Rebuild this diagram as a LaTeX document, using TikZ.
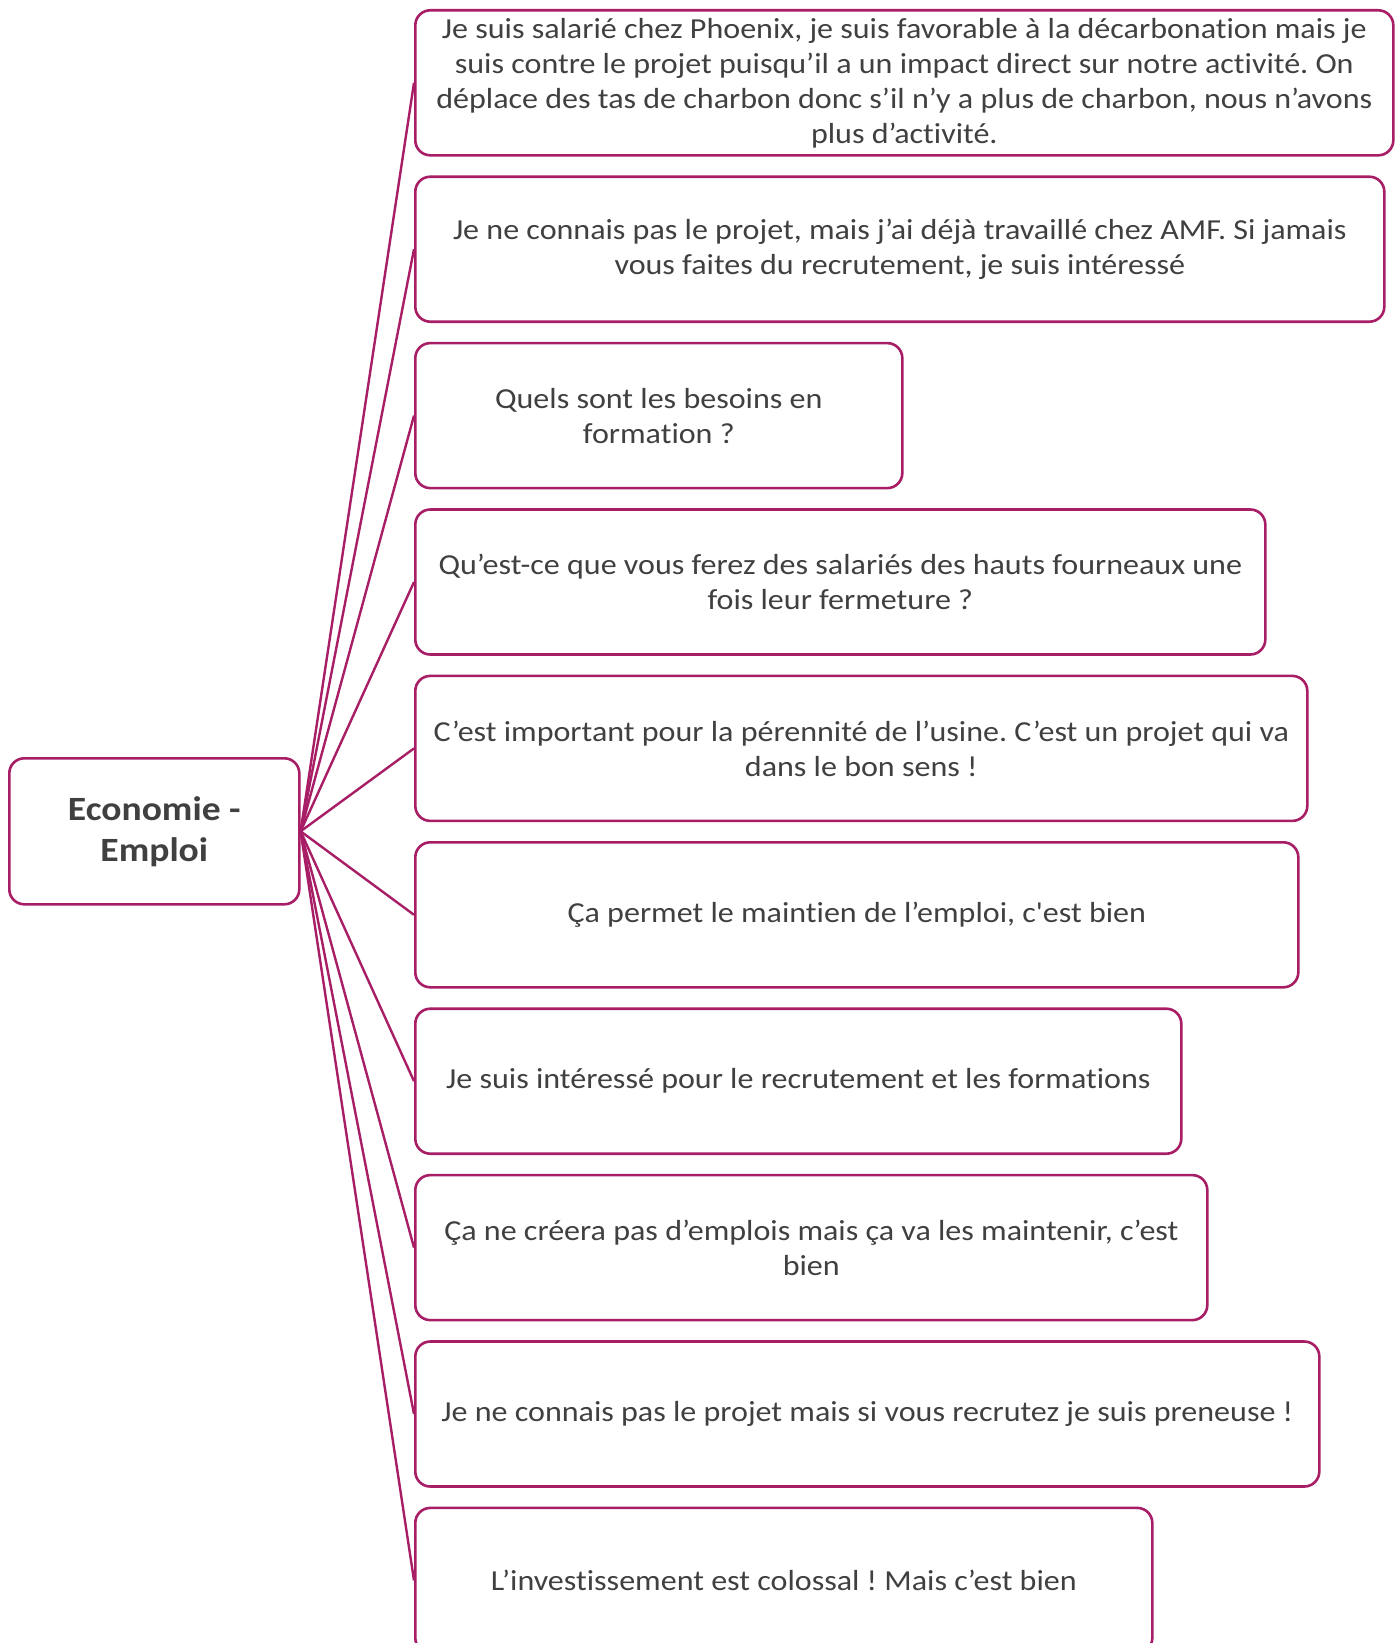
\documentclass[tikz,border=0pt]{standalone}
\usepackage{fontspec}
\setmainfont{Carlito}[Ligatures={NoCommon,TeXOff}, FakeStretch=1.105]
\definecolor{edge}{RGB}{168,30,102}
\definecolor{txt}{RGB}{64,64,64}
\begin{document}
\frenchspacing
\begin{tikzpicture}[x=1pt,y=-1pt,
  box/.style={draw=edge, line width=2.6pt, rounded corners=15pt, fill=white,
    minimum height=145pt, anchor=north west, inner sep=0pt, align=center,
    text=txt, font=\fontsize{29}{35}\selectfont\frenchspacing},
  hub/.style={draw=edge, line width=2.6pt, rounded corners=15pt, fill=white,
    minimum width=290pt, minimum height=146pt, anchor=north west, inner sep=0pt,
    align=center, text=txt, font=\fontsize{34}{41}\selectfont\bfseries},
  link/.style={draw=edge, line width=2.4pt}]
\clip (0,0) rectangle (1398,1643);
\useasboundingbox (0,0) rectangle (1398,1643);
\fill[white] (0,0) rectangle (1398,1643);

\node[hub] (c) at (8,757) {Economie -\\Emploi};

\node[box, minimum width=978pt] (b1) at (414,9.0)
  {Je suis salarié chez Phoenix, je suis favorable à la décarbonation mais je\\
   suis contre le projet puisqu’il a un impact direct sur notre activité. On\\
   déplace des tas de charbon donc s’il n’y a plus de charbon, nous n’avons\\
   plus d’activité.};
\node[box, minimum width=969pt] (b2) at (414,175.4)
  {Je ne connais pas le projet, mais j’ai déjà travaillé chez AMF. Si jamais\\
   vous faites du recrutement, je suis intéressé};
\node[box, minimum width=487pt] (b3) at (414,341.8)
  {Quels sont les besoins en\\formation ?};
\node[box, minimum width=850pt] (b4) at (414,508.2)
  {Qu’est-ce que vous ferez des salariés des hauts fourneaux une\\fois leur fermeture ?};
\node[box, minimum width=892pt] (b5) at (414,674.6)
  {C’est important pour la pérennité de l’usine. C’est un projet qui va\\dans le bon sens !};
\node[box, minimum width=883pt] (b6) at (414,841.0)
  {Ça permet le maintien de l’emploi, c'est bien};
\node[box, minimum width=766pt] (b7) at (414,1007.4)
  {Je suis intéressé pour le recrutement et les formations};
\node[box, minimum width=792pt] (b8) at (414,1173.8)
  {Ça ne créera pas d’emplois mais ça va les maintenir, c’est\\bien};
\node[box, minimum width=904pt] (b9) at (414,1340.2)
  {Je ne connais pas le projet mais si vous recrutez je suis preneuse !};
\node[box, minimum width=737pt] (b10) at (414,1506.6)
  {L’investissement est colossal ! Mais c’est bien};

\foreach \i in {1,...,10} {
  \draw[link] (c.east) -- (b\i.west);
}
\end{tikzpicture}
\end{document}
